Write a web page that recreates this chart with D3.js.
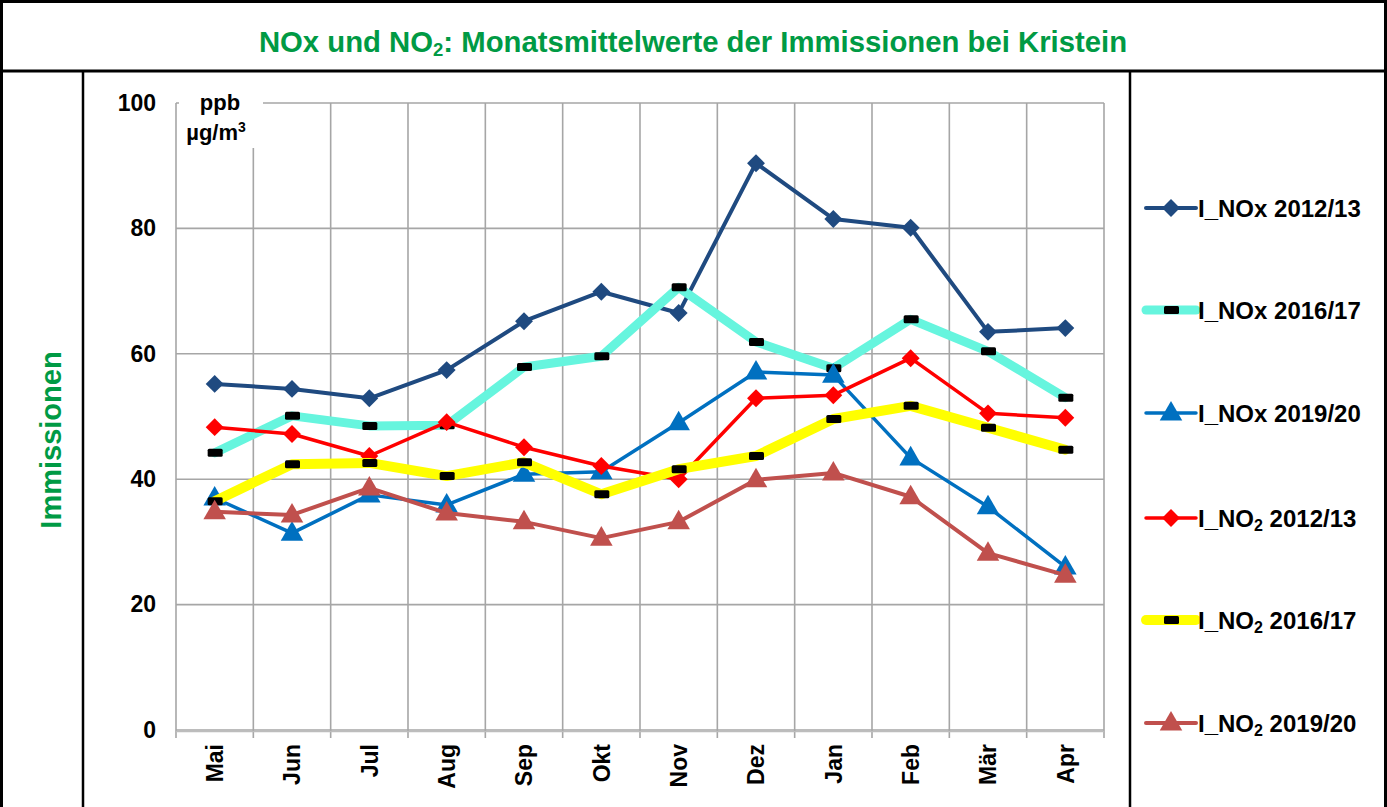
<!DOCTYPE html>
<html>
<head>
<meta charset="utf-8">
<script src="https://cdn.jsdelivr.net/npm/d3@7"></script>
<style>
  body { margin: 0; background: #fff; }
  svg { font-family: "Liberation Sans", Arial, sans-serif; }
</style>
</head>
<body>
<svg id="chart" width="1387" height="807"></svg>
<script>
// Monate (Mai bis April)
const monate = ["Mai", "Jun", "Jul", "Aug", "Sep", "Okt", "Nov", "Dez", "Jan", "Feb", "Mär", "Apr"];
const yTicks = [0, 20, 40, 60, 80, 100];

// Monatsmittelwerte
const nox1213 = [55.2, 54.4, 52.9, 57.4, 65.2, 69.9, 66.5, 90.4, 81.5, 80.1, 63.5, 64.1];
const nox1617 = [44.2, 50.1, 48.5, 48.6, 57.9, 59.6, 70.6, 61.9, 57.7, 65.5, 60.4, 53.0];
const nox1920 = [37.0, 31.4, 37.5, 35.9, 40.8, 41.2, 49.0, 57.1, 56.6, 43.4, 35.6, 26.0];
const no21213 = [48.3, 47.2, 43.7, 49.1, 45.1, 42.1, 40.0, 52.9, 53.4, 59.3, 50.5, 49.8];
const no21617 = [36.5, 42.4, 42.6, 40.5, 42.7, 37.6, 41.6, 43.7, 49.6, 51.7, 48.2, 44.7];
const no21920 = [34.8, 34.3, 38.6, 34.6, 33.2, 30.6, 33.2, 39.9, 41.0, 37.2, 28.2, 24.7];

const serien = [
    { name: "NOx", jahr: "2012/13", werte: nox1213, farbe: "#1f4a80", breite: 4, marker: "diamond" },
    { name: "NOx", jahr: "2016/17", werte: nox1617, farbe: "#66f5de", breite: 9, marker: "dash" },
    { name: "NOx", jahr: "2019/20", werte: nox1920, farbe: "#0070c0", breite: 3.5, marker: "triangle" },
    { name: "NO2", jahr: "2012/13", werte: no21213, farbe: "#ff0000", breite: 3.5, marker: "diamond" },
    { name: "NO2", jahr: "2016/17", werte: no21617, farbe: "#ffff00", breite: 10, marker: "dash" },
    { name: "NO2", jahr: "2019/20", werte: no21920, farbe: "#c0504d", breite: 4, marker: "triangle" }
];

const svg = d3.select("#chart");
const gruen = "#009a44";
const schrift = "Liberation Sans, Arial, sans-serif";

// Rahmen
svg.append("rect").attr("x", 1.5).attr("y", 1.5).attr("width", 1384).attr("height", 810)
    .attr("fill", "none").attr("stroke", "#000").attr("stroke-width", 3);
svg.append("line").attr("x1", 0).attr("x2", 1387).attr("y1", 71).attr("y2", 71)
    .attr("stroke", "#000").attr("stroke-width", 3);
svg.append("line").attr("x1", 83).attr("x2", 83).attr("y1", 71).attr("y2", 807)
    .attr("stroke", "#000").attr("stroke-width", 2.5);
svg.append("line").attr("x1", 1130).attr("x2", 1130).attr("y1", 71).attr("y2", 807)
    .attr("stroke", "#000").attr("stroke-width", 2.5);

// Titel
const titel = svg.append("text").attr("x", 693).attr("y", 52).attr("text-anchor", "middle")
    .attr("font-size", 29.3).attr("font-weight", "bold").attr("fill", gruen);
titel.append("tspan").text("NOx und NO");
titel.append("tspan").attr("font-size", 18.5).attr("dy", 4).text("2");
titel.append("tspan").attr("dy", -4).text(": Monatsmittelwerte der Immissionen bei Kristein");

// Y-Achsentitel
svg.append("text").attr("transform", "translate(61,440) rotate(-90)").attr("text-anchor", "middle")
    .attr("font-size", 29).attr("font-weight", "bold").attr("fill", gruen).text("Immissionen");

// Skalen
const pLeft = 176, pRight = 1104, pTop = 103, pBottom = 730;
const x = d3.scaleBand().domain(monate).range([pLeft, pRight]);
const y = d3.scaleLinear().domain([0, 100]).range([pBottom, pTop]);

const grid = svg.append("g").attr("stroke", "#a6a6a6").attr("stroke-width", 1.6);
grid.selectAll(".h").data(yTicks).enter().append("line")
    .attr("x1", pLeft).attr("x2", pRight).attr("y1", d => y(d)).attr("y2", d => y(d));
grid.selectAll(".v").data(monate).enter().append("line")
    .attr("x1", d => x(d)).attr("x2", d => x(d)).attr("y1", pTop).attr("y2", pBottom + 8);
grid.append("line").attr("x1", pRight).attr("x2", pRight).attr("y1", pTop).attr("y2", pBottom + 8);
svg.append("line").attr("x1", pLeft).attr("x2", pRight).attr("y1", pBottom + 1.5).attr("y2", pBottom + 1.5)
    .attr("stroke", "#bdbdbd").attr("stroke-width", 1.5);

// Einheitenfeld über dem Gitter
svg.append("rect").attr("x", pLeft + 3).attr("y", pTop - 8).attr("width", 84).attr("height", 53).attr("fill", "#fff");
svg.append("text").attr("x", 220).attr("y", 110).attr("text-anchor", "middle")
    .attr("font-size", 22).attr("font-weight", "bold").text("ppb");
const unit = svg.append("text").attr("x", 216).attr("y", 140).attr("text-anchor", "middle")
    .attr("font-size", 22).attr("font-weight", "bold");
unit.append("tspan").text("µg/m");
unit.append("tspan").attr("font-size", 14).attr("dy", -8).text("3");

// Y-Achse
const yAxis = svg.append("g").attr("transform", `translate(${pLeft},0)`)
    .call(d3.axisLeft(y).tickValues(yTicks).tickSize(0).tickPadding(20));
yAxis.select(".domain").remove();
yAxis.selectAll("text").attr("font-size", 23).attr("font-weight", "bold").attr("fill", "#000")
    .attr("font-family", schrift);

// X-Achse
const xAxis = svg.append("g").attr("transform", `translate(0,${pBottom})`)
    .call(d3.axisBottom(x).tickSize(0));
xAxis.select(".domain").remove();
xAxis.selectAll("text").attr("font-size", 23).attr("font-weight", "bold").attr("fill", "#000")
    .attr("font-family", schrift)
    .attr("transform", "rotate(-90)").attr("text-anchor", "end")
    .attr("x", -14).attr("y", 0).attr("dy", "0.36em");

// Linien
const cx = d => x(d) + x.bandwidth() / 2;
const line = d3.line().x((v, i) => cx(monate[i])).y(v => y(v));

function marker(sel, s) {
    if (s.marker === "diamond") {
        sel.append("path").attr("d", d3.symbol(d3.symbolSquare, 160)).attr("fill", s.farbe)
            .attr("transform", "rotate(45)");
    } else if (s.marker === "triangle") {
        sel.append("path").attr("d", d3.symbol(d3.symbolTriangle, 220)).attr("fill", s.farbe)
            .attr("transform", "translate(0,1)");
    } else {
        sel.append("rect").attr("x", -7).attr("y", -4).attr("width", 15).attr("height", 8)
            .attr("rx", 1.5).attr("fill", "#000");
    }
}

serien.forEach(s => {
    svg.append("path").datum(s.werte).attr("d", line).attr("fill", "none")
        .attr("stroke", s.farbe).attr("stroke-width", s.breite)
        .attr("stroke-linejoin", "round").attr("stroke-linecap", "round");
    svg.append("g").selectAll("g").data(s.werte).enter().append("g")
        .attr("transform", (v, i) => `translate(${cx(monate[i])},${y(v)})`)
        .each(function () { marker(d3.select(this), s); });
});

// Legende
const legY = [208, 310, 413, 518, 620, 723];
serien.forEach((s, i) => {
    const g = svg.append("g").attr("transform", `translate(1146,${legY[i]})`);
    g.append("line").attr("x1", 0).attr("x2", 50).attr("stroke", s.farbe)
        .attr("stroke-width", s.breite).attr("stroke-linecap", "round");
    const m = g.append("g").attr("transform", "translate(25,0)");
    marker(m, s);
    const t = g.append("text").attr("x", 52).attr("y", 8.5).attr("font-size", 24).attr("font-weight", "bold");
    if (s.name === "NO2") {
        t.append("tspan").text("I_NO");
        t.append("tspan").attr("font-size", 16).attr("dy", 4).text("2");
        t.append("tspan").attr("dy", -4).text(" " + s.jahr);
    } else {
        t.text("I_" + s.name + " " + s.jahr);
    }
});
</script>
</body>
</html>
